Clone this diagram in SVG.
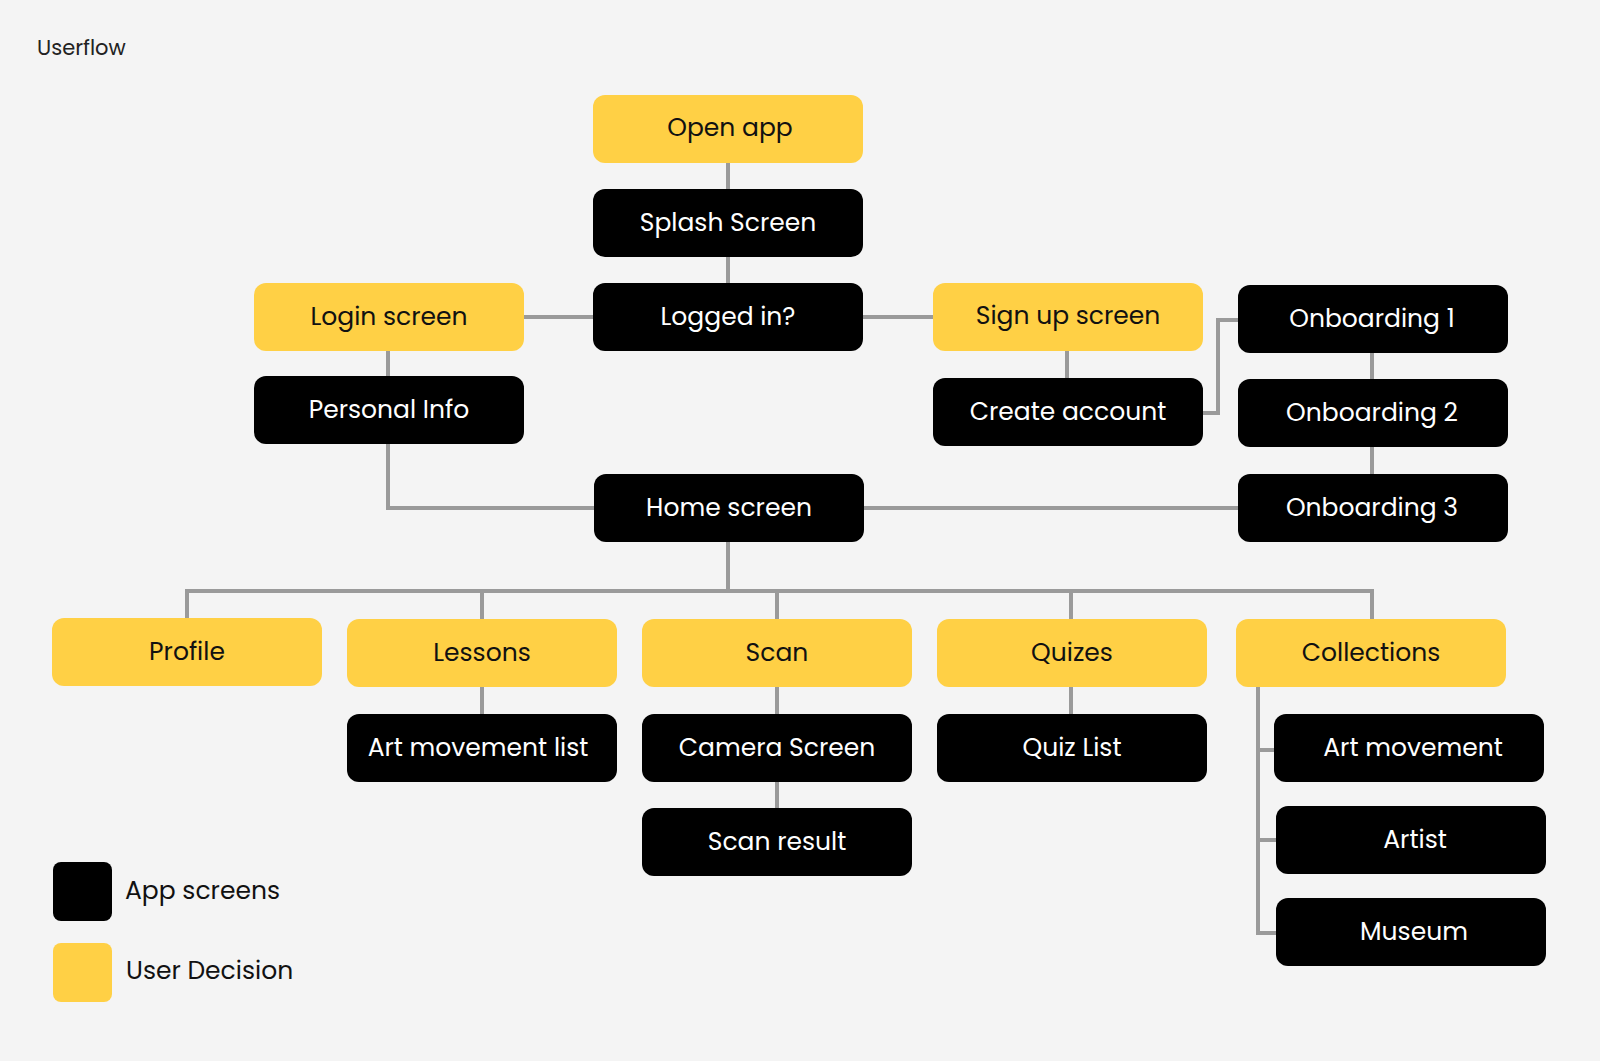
<svg xmlns="http://www.w3.org/2000/svg" width="1600" height="1061" viewBox="0 0 1600 1061">
<style>
.bg{fill:#F4F4F4}
.y rect{fill:#FFD045}
.b rect{fill:#000000}
.n rect{rx:12px;ry:12px}
text{font-family:"Poppins","Open Sans","Liberation Sans",sans-serif;font-size:25px;text-anchor:middle}
.y text{fill:#111111}
.b text{fill:#FFFFFF}
.c{fill:none;stroke:#9A9A9A;stroke-width:4;stroke-linejoin:miter;stroke-linecap:butt}
.leg{text-anchor:start;fill:#111111;font-size:25px}
</style>
<rect class="bg" x="0" y="0" width="1600" height="1061"/>
<text x="37" y="55" style="text-anchor:start;font-size:21px;fill:#222222">Userflow</text>

<g id="connectors">
<path class="c" d="M728 163V189"/>
<path class="c" d="M728 257V283"/>
<path class="c" d="M524 317H593"/>
<path class="c" d="M863 317H933"/>
<path class="c" d="M388 351V376"/>
<path class="c" d="M1067 351V378"/>
<path class="c" d="M1203 413H1218V320H1238"/>
<path class="c" d="M1372 353V379"/>
<path class="c" d="M1372 447V474"/>
<path class="c" d="M388 444V508H594"/>
<path class="c" d="M864 508H1238"/>
<path class="c" d="M728 542V591"/>
<path class="c" d="M187 618V591H1372V619"/>
<path class="c" d="M482 591V619"/>
<path class="c" d="M777 591V619"/>
<path class="c" d="M1071 591V619"/>
<path class="c" d="M482 687V714"/>
<path class="c" d="M777 687V714"/>
<path class="c" d="M777 782V808"/>
<path class="c" d="M1071 687V714"/>
<path class="c" d="M1258 687V933H1276"/>
<path class="c" d="M1258 750H1274"/>
<path class="c" d="M1258 840H1276"/>
</g>

<g id="open-app" class="n y"><rect x="593" y="95" width="270" height="68"/><text x="730" y="136">Open app</text></g>
<g id="splash-screen" class="n b"><rect x="593" y="189" width="270" height="68"/><text x="728" y="231">Splash Screen</text></g>
<g id="logged-in" class="n b"><rect x="593" y="283" width="270" height="68"/><text x="728" y="325">Logged in?</text></g>
<g id="login-screen" class="n y"><rect x="254" y="283" width="270" height="68"/><text x="389" y="325">Login screen</text></g>
<g id="personal-info" class="n b"><rect x="254" y="376" width="270" height="68"/><text x="389" y="418">Personal Info</text></g>
<g id="sign-up-screen" class="n y"><rect x="933" y="283" width="270" height="68"/><text x="1068" y="324">Sign up screen</text></g>
<g id="create-account" class="n b"><rect x="933" y="378" width="270" height="68"/><text x="1068" y="420">Create account</text></g>
<g id="onboarding-1" class="n b"><rect x="1238" y="285" width="270" height="68"/><text x="1372" y="327">Onboarding 1</text></g>
<g id="onboarding-2" class="n b"><rect x="1238" y="379" width="270" height="68"/><text x="1372" y="421">Onboarding 2</text></g>
<g id="onboarding-3" class="n b"><rect x="1238" y="474" width="270" height="68"/><text x="1372" y="516">Onboarding 3</text></g>
<g id="home-screen" class="n b"><rect x="594" y="474" width="270" height="68"/><text x="729" y="516">Home screen</text></g>
<g id="profile" class="n y"><rect x="52" y="618" width="270" height="68"/><text x="187" y="660">Profile</text></g>
<g id="lessons" class="n y"><rect x="347" y="619" width="270" height="68"/><text x="482" y="661">Lessons</text></g>
<g id="scan" class="n y"><rect x="642" y="619" width="270" height="68"/><text x="777" y="661">Scan</text></g>
<g id="quizes" class="n y"><rect x="937" y="619" width="270" height="68"/><text x="1072" y="661">Quizes</text></g>
<g id="collections" class="n y"><rect x="1236" y="619" width="270" height="68"/><text x="1371" y="661">Collections</text></g>
<g id="art-movement-list" class="n b"><rect x="347" y="714" width="270" height="68"/><text x="478" y="756">Art movement list</text></g>
<g id="camera-screen" class="n b"><rect x="642" y="714" width="270" height="68"/><text x="777" y="756">Camera Screen</text></g>
<g id="scan-result" class="n b"><rect x="642" y="808" width="270" height="68"/><text x="777" y="850">Scan result</text></g>
<g id="quiz-list" class="n b"><rect x="937" y="714" width="270" height="68"/><text x="1072" y="756">Quiz List</text></g>
<g id="art-movement" class="n b"><rect x="1274" y="714" width="270" height="68"/><text x="1413" y="756">Art movement</text></g>
<g id="artist" class="n b"><rect x="1276" y="806" width="270" height="68"/><text x="1415" y="848">Artist</text></g>
<g id="museum" class="n b"><rect x="1276" y="898" width="270" height="68"/><text x="1414" y="940">Museum</text></g>

<g id="legend">
<rect x="53" y="862" width="59" height="59" rx="8" fill="#000000"/>
<text class="leg" x="125" y="899">App screens</text>
<rect x="53" y="943" width="59" height="59" rx="8" fill="#FFD045"/>
<text class="leg" x="126" y="979">User Decision</text>
</g>
</svg>
